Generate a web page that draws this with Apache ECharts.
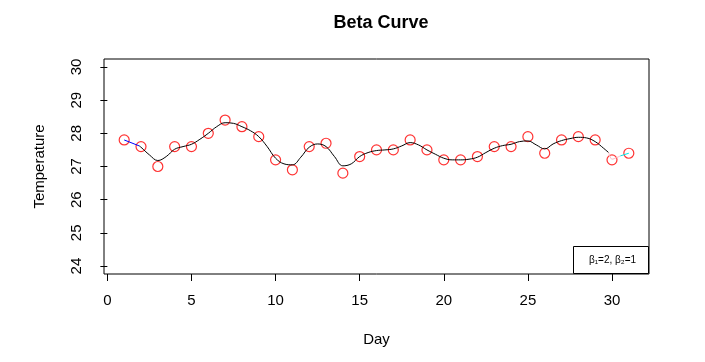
<!DOCTYPE html>
<html>
<head>
<meta charset="utf-8">
<script src="https://cdn.jsdelivr.net/npm/echarts@6/dist/echarts.min.js"></script>
<style>html,body{margin:0;padding:0;background:#fff}#c{width:705px;height:362px}</style>
</head>
<body>
<div id="c"></div>
<script>
// Observed daily temperatures
const days = [1,2,3,4,5,6,7,8,9,10,11,12,13,14,15,16,17,18,19,20,21,22,23,24,25,26,27,28,29,30,31];
const temps = [27.8,27.6,27.0,27.6,27.6,28.0,28.4,28.2,27.9,27.2,26.9,27.6,27.7,26.8,27.3,27.5,27.5,27.8,27.5,27.2,27.2,27.3,27.6,27.6,27.9,27.4,27.8,27.9,27.8,27.2,27.4];
// Fitted curve
const curveX = [1.9,2,2.5,3,3.5,4,4.5,5,5.5,6,6.5,7,7.5,8,8.5,9,9.5,10,10.5,11,11.5,12,12.5,13,13.5,14,14.5,15,15.5,16,16.5,17,17.5,18,18.5,19,19.5,20,20.5,21,21.5,22,22.5,23,23.5,24,24.5,25,25.5,26,26.5,27,27.5,28,28.5,29,29.5,29.8];
const curveY = [27.62,27.58,27.35,27.18,27.3,27.52,27.6,27.67,27.82,28.0,28.2,28.32,28.3,28.2,28.08,27.9,27.6,27.25,27.08,27.05,27.28,27.58,27.68,27.6,27.3,27.02,27.08,27.3,27.42,27.48,27.5,27.53,27.62,27.72,27.65,27.5,27.37,27.25,27.2,27.2,27.22,27.28,27.42,27.55,27.63,27.67,27.75,27.77,27.65,27.53,27.68,27.78,27.84,27.88,27.86,27.75,27.55,27.42];
const startX = [1,1.9], startY = [27.8,27.62];
const endPinkX = [29.8,30,30.5], endPinkY = [27.42,27.22,27.32];
const endCyanX = [30.5,31], endCyanY = [27.32,27.4];
const xTicks = [0,5,10,15,20,25,30];
const yTicks = [24,25,26,27,28,29,30];

const zip = (a,b) => a.map((v,i)=>[v,b[i]]);
const font = 'Liberation Sans, Arial, Helvetica, sans-serif';
const chart = echarts.init(document.getElementById('c'));
chart.setOption({
  animation:false,
  backgroundColor:'#fff',
  title:{text:'Beta Curve',left:376,top:9,textAlign:'center',
    textStyle:{fontFamily:font,fontSize:18,fontWeight:'bold',color:'#000'}},
  grid:{left:104,right:56,top:59,bottom:88,show:true,borderColor:'#000',borderWidth:1,backgroundColor:'transparent'},
  xAxis:{type:'value',min:-0.2,max:32.2,name:'Day',nameLocation:'middle',nameGap:58,
    nameTextStyle:{fontFamily:font,fontSize:15,color:'#000'},
    axisLine:{show:false},splitLine:{show:false},
    axisTick:{show:true,length:7,customValues:xTicks,lineStyle:{color:'#000'}},
    axisLabel:{customValues:xTicks,margin:19,fontFamily:font,fontSize:15,color:'#000'}},
  yAxis:{type:'value',min:23.76,max:30.24,name:'Temperature',nameLocation:'middle',nameGap:57,
    nameTextStyle:{fontFamily:font,fontSize:15,color:'#000'},
    axisLine:{show:false},splitLine:{show:false},
    axisTick:{show:true,length:7,customValues:yTicks,lineStyle:{color:'#000'}},
    axisLabel:{customValues:yTicks,rotate:90,margin:20,fontFamily:font,fontSize:15,color:'#000'}},
  series:[
    {type:'line',data:zip(startX,startY),symbol:'none',lineStyle:{color:'#0000ff',width:1}},
    {type:'line',data:zip(curveX,curveY),symbol:'none',smooth:0.4,lineStyle:{color:'#000',width:1}},
    {type:'line',data:zip(endPinkX,endPinkY),symbol:'none',smooth:0.3,lineStyle:{color:'#ffb6c1',width:1}},
    {type:'line',data:zip(endCyanX,endCyanY),symbol:'none',lineStyle:{color:'#00e5e5',width:1}},
    {type:'scatter',data:zip(days,temps),symbol:'circle',symbolSize:10,
      itemStyle:{color:'rgba(0,0,0,0)',borderColor:'#ff0000',borderWidth:1.2}}
  ],
  graphic:[{type:'group',right:56,bottom:88,children:[
    {type:'rect',shape:{x:0,y:0,width:75,height:27},style:{fill:'#fff',stroke:'#000',lineWidth:1}},
    {type:'text',x:39,y:14,style:{text:'β₁=2, β₂=1',font:'10px '+font,fill:'#000',textAlign:'center',textVerticalAlign:'middle'}}
  ]}]
});
</script>
</body>
</html>
